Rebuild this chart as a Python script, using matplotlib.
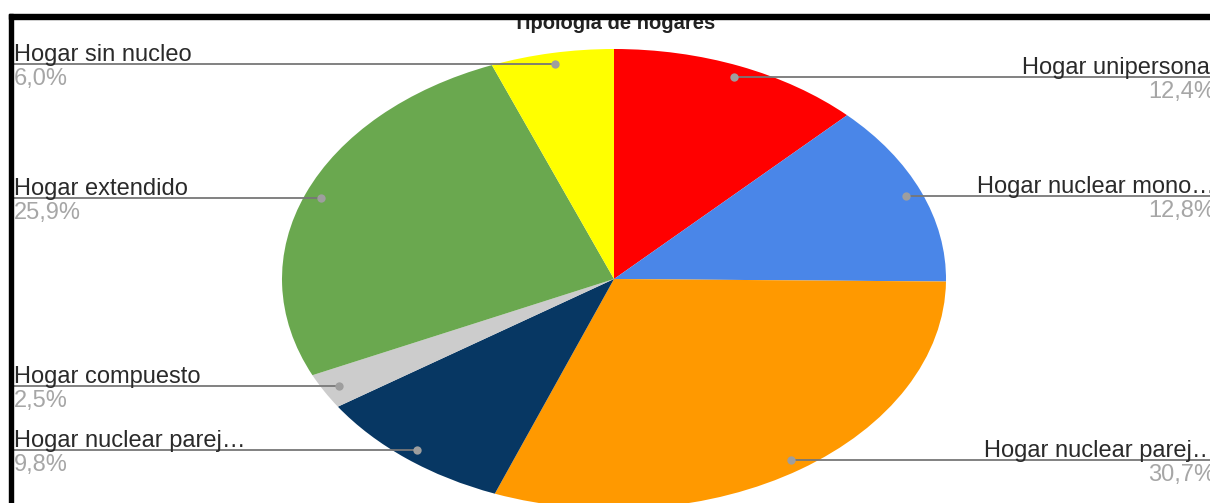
import matplotlib
matplotlib.use("Agg")
import matplotlib.pyplot as plt
import numpy as np
from matplotlib.patches import Rectangle

plt.rcParams['font.family'] = ['Liberation Sans', 'DejaVu Sans']

title = "Tipología de hogares"
labels = ["Hogar unipersonal", "Hogar nuclear mono…", "Hogar nuclear parej…",
          "Hogar nuclear parej…", "Hogar compuesto", "Hogar extendido",
          "Hogar sin nucleo"]
values = [12.4, 12.8, 30.7, 9.8, 2.5, 25.9, 6.0]
colors = ["#ff0000", "#4a86e8", "#ff9900", "#073763", "#cccccc", "#6aa84f", "#ffff00"]

# canvas in pixels, pie is stretched (ellipse)
W, H = 1210, 503
cx, cy = 614, 279
rx, ry = 332, 230


def px(x, y):
    return (x - cx) / rx, (cy - y) / ry


fig = plt.figure(figsize=(W / 100, H / 100), dpi=100)
ax = fig.add_axes([0, 0, 1, 1])
ax.pie(values, colors=colors, startangle=90, counterclock=False, radius=1,
       wedgeprops=dict(linewidth=0))
ax.set_aspect('auto')
ax.set_xlim(-cx / rx, (W - cx) / rx)
ax.set_ylim(-(H - cy) / ry, cy / ry)
ax.axis('off')

total = sum(values)
cum = np.cumsum([0] + values[:-1])
left_x = px(12, 0)[0]
right_x = px(W, 0)[0]
for lab, v, c0 in zip(labels, values, cum):
    ang = np.deg2rad(90 - (c0 + v / 2) / total * 360)
    dx, dy = 0.95 * np.cos(ang), 0.95 * np.sin(ang)
    pct = f"{v:.1f}".replace(".", ",") + "%"
    if dx > 0:
        ex, tx, ha = right_x, px(1215, 0)[0], 'right'
    else:
        ex, tx, ha = left_x, px(14, 0)[0], 'left'
    ax.plot([dx, ex], [dy, dy], color="#777777", lw=1.3, solid_capstyle='butt')
    ax.plot(dx, dy, 'o', color="#9e9e9e", ms=6, mec='none')
    ax.annotate(lab, xy=(tx, dy), xytext=(0, 3), textcoords='offset pixels',
                ha=ha, va='baseline', fontsize=17, color="#2a2a2a",
                annotation_clip=False)
    ax.annotate(pct, xy=(tx, dy), xytext=(0, -4), textcoords='offset pixels',
                ha=ha, va='top', fontsize=17, color="#a6a6a6",
                annotation_clip=False)

tx, ty = px(614, 29)
ax.text(tx, ty, title, ha='center', va='baseline', fontsize=14.5,
        fontweight='bold', color="#222222")

# cropped screenshot frame
fig.add_artist(Rectangle((0, 1 - 14 / H), 1, 14 / H, transform=fig.transFigure,
                         color='white', zorder=10))
fig.add_artist(Rectangle((0, 0), 9 / W, 1, transform=fig.transFigure,
                         color='white', zorder=10))
fig.add_artist(Rectangle((9 / W, 1 - 18.5 / H), 1, 4.5 / H, transform=fig.transFigure,
                         color='black', zorder=11))
fig.add_artist(Rectangle((9 / W, 0), 3.5 / W, 1 - 14 / H, transform=fig.transFigure,
                         color='black', zorder=11))

fig.savefig("out.png", dpi=100)
